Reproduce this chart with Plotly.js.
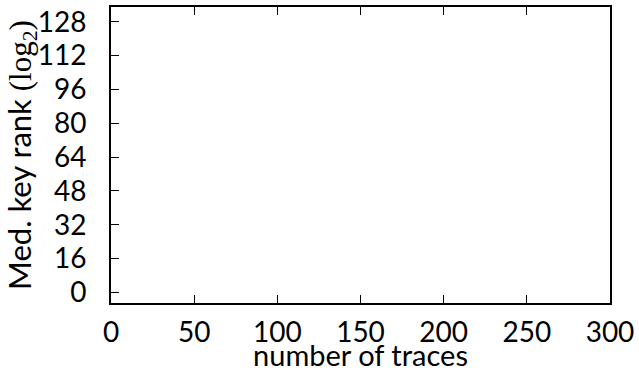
<!DOCTYPE html>
<html>
<head>
<meta charset="utf-8">
<script src="https://cdn.plot.ly/plotly-3.0.1.min.js"></script>
<style>html,body{margin:0;padding:0;background:#fff;}#chart{width:639px;height:372px;}</style>
</head>
<body>
<div id="chart"></div>
<script>
// Data (the reference plot area is empty apart from a tiny dashed stub at rank 0)
const traces = [1, 4];
const medKeyRank = [0, 0];
const xTickVals = [0, 50, 100, 150, 200, 250, 300];
const yTickVals = [0, 16, 32, 48, 64, 80, 96, 112, 128];

const FONT = "Lato, 'DejaVu Sans', sans-serif";
const TICK_SIZE = 28;
const XTITLE_SIZE = 29;
const YTITLE_SIZE = 31;

const data = [{
  x: traces,
  y: medKeyRank,
  type: 'scatter',
  mode: 'lines',
  line: {color: '#000', width: 1, dash: 'dash'},
  showlegend: false,
  hoverinfo: 'skip'
}];

const layout = {
  width: 639,
  height: 372,
  margin: {l: 111, r: 29, t: 7, b: 69},
  paper_bgcolor: '#fff',
  plot_bgcolor: '#fff',
  font: {family: FONT, size: TICK_SIZE, color: '#000'},
  xaxis: {
    range: [0, 300],
    tickvals: xTickVals,
    ticktext: xTickVals.map(String),
    ticks: 'inside',
    ticklen: 8,
    tickwidth: 1,
    tickcolor: '#000',
    showline: true,
    linecolor: '#000',
    linewidth: 2,
    mirror: 'ticks',
    showgrid: false,
    zeroline: false,
    ticklabelstandoff: 3,
    tickfont: {family: FONT, size: TICK_SIZE},
    title: {text: 'number of traces', font: {family: FONT, size: XTITLE_SIZE}, standoff: 0}
  },
  yaxis: {
    range: [-5, 135],
    tickvals: yTickVals,
    ticktext: yTickVals.map(String),
    ticks: 'inside',
    ticklen: 8,
    tickwidth: 1,
    tickcolor: '#000',
    showline: true,
    linecolor: '#000',
    linewidth: 2,
    mirror: true,
    showgrid: false,
    zeroline: false,
    ticklabelstandoff: 17,
    tickfont: {family: FONT, size: TICK_SIZE},
    title: {
      text: "Med. key rank <span style=\"font-family:'Liberation Serif',serif\">(log<sub>2</sub>)</span>",
      font: {family: FONT, size: YTITLE_SIZE},
      standoff: 0
    }
  }
};

Plotly.newPlot('chart', data, layout, {displayModeBar: false, staticPlot: true});
</script>
</body>
</html>
